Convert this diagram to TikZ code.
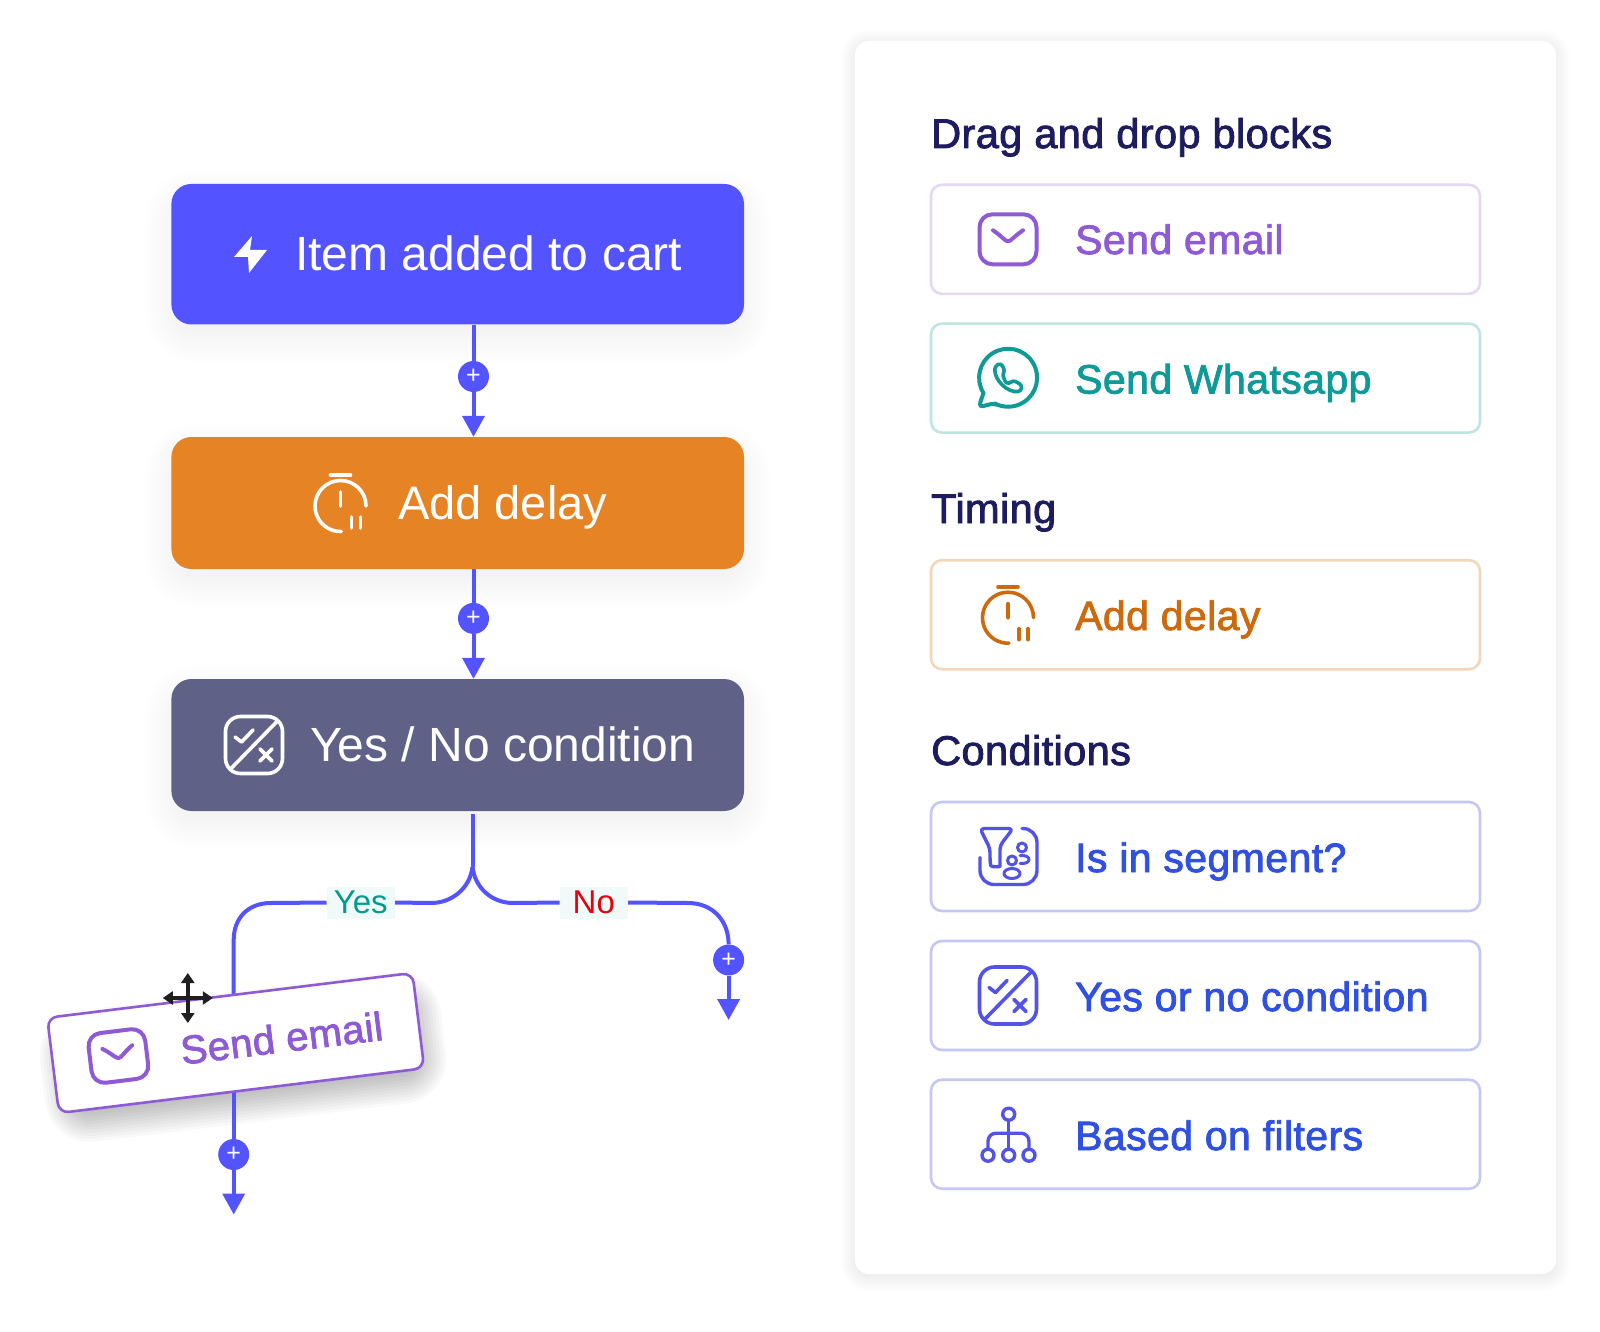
\documentclass[tikz,border=0pt]{standalone}
\usepackage{fontspec}
\setmainfont{Liberation Sans}
\newfontfamily\semi[FakeBold=2,LetterSpace=1]{Liberation Sans}
\usetikzlibrary{arrows.meta,calc}
\definecolor{cflow}{HTML}{5353FF}
\definecolor{corange}{HTML}{E58325}
\definecolor{cgrey}{HTML}{5F6187}
\definecolor{cpurple}{HTML}{8E5AD6}
\definecolor{cpurpleb}{HTML}{E4D8F5}
\definecolor{cteal}{HTML}{0E9A97}
\definecolor{ctealb}{HTML}{BFE5E2}
\definecolor{cdelay}{HTML}{CC6A0D}
\definecolor{cdelayb}{HTML}{F3D7BC}
\definecolor{cblue}{HTML}{2F50E0}
\definecolor{cicon}{HTML}{5353E8}
\definecolor{cblueb}{HTML}{C5C8F5}
\definecolor{chead}{HTML}{1C1C5E}
\definecolor{cyes}{HTML}{009B8E}
\definecolor{cno}{HTML}{E8000D}
\definecolor{clabelbg}{HTML}{F0FAF8}
\pgfdeclarelayer{sh}
\pgfdeclarelayer{conn}
\pgfsetlayers{sh,conn,main}
\newcommand{\softshadow}[6]{%
  \foreach \s in {26,23,...,-4}{%
    \fill[black,opacity=#6,rounded corners={(#5+\s+4)*1pt}]
      (#1-\s,#2-\s+12) rectangle (#3+\s,#4+\s+12);}}
\tikzset{
  flowbox/.style={rectangle,rounded corners=20pt,minimum width=572.6pt,inner sep=0pt,fill=#1},
  flowtext/.style={anchor=base west,inner sep=0pt,text=white,font=\fontsize{48}{50}\selectfont},
  plusdot/.style={circle,fill=cflow,minimum size=31pt,inner sep=0pt,text=white,font=\fontsize{25}{25}\selectfont},
  flowline/.style={draw=cflow,line width=4pt},
  flowarrow/.style={flowline,-{Triangle[width=22pt,length=21pt]}},
  pick/.style={rectangle,rounded corners=11pt,draw=#1,line width=2.6pt,fill=white,minimum width=549pt,minimum height=109pt,inner sep=0pt},
  picktext/.style={anchor=base west,inner sep=0pt,text=#1,font=\semi\fontsize{41}{44}\selectfont},
  heading/.style={anchor=base west,inner sep=0pt,text=chead,font=\semi\fontsize{41.5}{44}\selectfont},
  branch/.style={rectangle,fill=clabelbg,minimum width=68pt,minimum height=32pt,inner sep=0pt,text=#1,font=\fontsize{33}{34}\selectfont},
  ic/.style={draw=#1,line width=3.4pt,line cap=round,line join=round},
  pics/mailicon/.style n args={1}{code={
    \draw[ic=#1,line width=4pt,rounded corners=13pt] (-28.5,-25) rectangle (28.5,25);
    \draw[ic=#1,line width=4pt] (-15,-9) .. controls (-6,-3) and (-3,2) .. (0,2) .. controls (3,2) and (6,-3) .. (15,-9);}},
  pics/waicon/.style n args={1}{code={
    \draw[ic=#1,line width=4pt] (-24.5,15) arc[start angle=212,end angle=-118,radius=29pt] .. controls (-8,29) and (-12,25) .. (-17,26) -- (-25,28) .. controls (-29,29) and (-28,25) .. (-27,22) -- cycle;
    \draw[ic=#1,line width=3.6pt,rounded corners=3pt] (-13,-12) .. controls (-14,2) and (0,15) .. (13,13) -- (14,7) -- (5,2) -- (1,6) .. controls (-3,4) and (-4,0) .. (-6,-3) -- (-3,-7) -- (-7,-15) -- cycle;}},
  pics/delayicon/.style n args={1}{code={
    \draw[ic=#1,line width=3.6pt] (-10,-28) -- (10,-28);
    \draw[ic=#1,line width=3.6pt] (25.5,3) arc[start angle=0,end angle=272,radius=25.5pt];
    \draw[ic=#1,line width=3.6pt] (0,-11) -- (0,3);
    \draw[ic=#1,line width=3.6pt] (11,14) -- (11,25);
    \draw[ic=#1,line width=3.6pt] (20,14) -- (20,25);}},
  pics/yesnoicon/.style n args={1}{code={
    \draw[ic=#1,rounded corners=15pt,line width=3.6pt] (-28.5,-28.5) rectangle (28.5,28.5);
    \draw[ic=#1,line width=3.6pt] (-22.5,23) -- (22.5,-23);
    \draw[ic=#1,line width=3.6pt] (-19,-8) -- (-12.5,-3) -- (-1,-15);
    \draw[ic=#1,line width=3.6pt] (6,4) -- (18,16) (18,4) -- (6,16);}},
  pics/segicon/.style n args={1}{code={
    \draw[ic=#1,rounded corners=4pt] (-28,-28) -- (5,-28) -- (-8,-11) -- (-8,6) .. controls (-8,10) and (-17,11) .. (-18,5) -- (-18,-8) -- cycle;
    \draw[ic=#1,rounded corners=14pt] (-28,1) -- (-28,28) -- (29,28) -- (29,-28) -- (14,-28);
    \draw[ic=#1,line width=3pt] (14,-9) circle[radius=4.5pt] (4,4) circle[radius=4.5pt] (4,17) ellipse[x radius=8pt,y radius=5pt];
    \draw[ic=#1,line width=3pt] (12,-1) .. controls (24,-2) and (24,8) .. (12,7);}},
  pics/treeicon/.style n args={1}{code={
    \draw[ic=#1,line width=3.4pt] (0.7,-20) circle[radius=6pt] (0.7,21) circle[radius=6pt] (-20,21) circle[radius=6pt] (21,21) circle[radius=6pt];
    \draw[ic=#1,line width=3.4pt] (0.7,-14) -- (0.7,15);
    \draw[ic=#1,line width=3.4pt,rounded corners=8pt] (-20,15) -- (-20,-1) -- (21,-1) -- (21,15);}},
  pics/bolticon/.style={code={
    \fill[white] (2,-18) -- (-16,3) -- (-2,3) -- (-1,19) -- (17,-4) -- (0,-4) -- cycle;}},
  pics/moveicon/.style={code={
    \draw[black!88,line width=3.6pt,{Triangle[width=13pt,length=10pt]}-{Triangle[width=13pt,length=10pt]}] (0,-25) -- (0,25);
    \draw[black!88,line width=3.6pt,{Triangle[width=13pt,length=10pt]}-{Triangle[width=13pt,length=10pt]}] (-25,0) -- (25,0);}}
}
\begin{document}
\begin{tikzpicture}[x=1pt,y=-1pt]
\useasboundingbox (0,0) rectangle (1600,1332);
% shadows
\begin{pgfonlayer}{sh}
  \fill[white] (0,0) rectangle (1600,1332);
  \softshadow{171.4}{184}{744}{324.5}{20}{0.0032}
  \softshadow{171.4}{437}{744}{569}{20}{0.0032}
  \softshadow{171.4}{679}{744}{811}{20}{0.0032}
  \foreach \s in {14,12,...,-2}{%
    \fill[black,opacity=0.008,rounded corners={(14+\s)*1pt}] (855-\s,41-\s+3) rectangle (1556+\s,1274+\s+3);}
  \begin{scope}[shift={(243,1057)},rotate=7]
    \foreach \s in {18,15,...,-15}{%
      \fill[black,opacity=0.024,rounded corners={(12+\s+15)*1pt}] (-184-\s,-48-\s) rectangle (184+\s,48+\s);}
  \end{scope}
\end{pgfonlayer}
% flow boxes
\node[flowbox=cflow,minimum height=140.5pt] (trigger) at (457.7,254.2) {};
\node[flowbox=corange,minimum height=132pt] (delay) at (457.7,503) {};
\node[flowbox=cgrey,minimum height=132pt] (cond) at (457.7,745) {};
\pic at (250,254) {bolticon};
\node[flowtext] (triggertext) at (295,270) {Item added to cart};
\pic at (340.5,503) {delayicon={white}};
\node[flowtext,font=\fontsize{47}{50}\selectfont] (delaytext) at (398,519) {Add delay};
\pic at (254,745) {yesnoicon={white}};
\node[flowtext] (condtext) at (310,761) {Yes / No condition};
% plus nodes
\node[plusdot] (p1) at (473.5,376.5) {\raisebox{-1.5pt}{+}};
\node[plusdot] (p2) at (473.5,618.4) {\raisebox{-1.5pt}{+}};
\node[plusdot] (p3) at (728.6,960) {\raisebox{-1.5pt}{+}};
\node[plusdot] (p4) at (233.7,1154.5) {\raisebox{-1.5pt}{+}};
\coordinate (fork) at (472.5,867);
\coordinate (forktop) at (472.5,814);
\coordinate (end3) at (728.6,1020);
\coordinate (end4) at (233.7,1214.5);
% branch labels
\node[branch=cyes] (yes) at (360.7,902.5) {Yes};
\node[branch=cno] (no) at (593.8,902.5) {No};
% dragged card
\node[rectangle,rounded corners=10pt,draw=cpurple,line width=2.6pt,fill=white,minimum width=368pt,minimum height=96pt,rotate=7,inner sep=0pt] (card) at (235.7,1043) {};
\pic[rotate=7] at (118.4,1056) {mailicon={cpurple}};
\node[rotate=7,inner sep=0pt,text=cpurple,font=\semi\fontsize{40}{42}\selectfont] (cardtext) at (281.6,1038) {Send email};
\pic at (187.8,998) {moveicon};
% connectors
\begin{pgfonlayer}{conn}
  \draw[flowline] (p1|-trigger.south) -- (p1);
  \draw[flowarrow] (p1) -- (p1|-delay.north);
  \draw[flowline] (p2|-delay.south) -- (p2);
  \draw[flowarrow] (p2) -- (p2|-cond.north);
  \draw[flowline] (forktop) -- (fork);
  \draw[flowline] (fork) .. controls (470,888) and (452,903) .. (431,903) -- (yes.east);
  \draw[flowline] (fork) .. controls (475,888) and (492,903) .. (513,903) -- (no.west);
  \draw[flowline] (yes.west) -- (271,903) .. controls (248,903) and (233.7,918) .. (233.7,940) -- (card.center -| p4);
  \draw[flowline] (no.east) -- (688,903) .. controls (712,903) and (728.6,920) .. (p3);
  \draw[flowarrow] (p3) -- (end3);
  \draw[flowline] (card.center -| p4) -- (p4);
  \draw[flowarrow] (p4) -- (end4);
\end{pgfonlayer}
% panel
\node[rectangle,rounded corners=14pt,fill=white,minimum width=701pt,minimum height=1233pt,inner sep=0pt] (panel) at (1205.5,657.5) {};
\node[heading] (h1) at (931,148) {Drag and drop blocks};
\node[heading] (h2) at (931,523) {Timing};
\node[heading] (h3) at (931,765) {Conditions};
\node[pick=cpurpleb] (b1) at (1205.5,239.3) {};
\node[pick=ctealb] (b2) at (1205.5,378.1) {};
\node[pick=cdelayb] (b3) at (1205.5,614.7) {};
\node[pick=cblueb] (b4) at (1205.5,856.5) {};
\node[pick=cblueb] (b5) at (1205.5,995.5) {};
\node[pick=cblueb] (b6) at (1205.5,1134.2) {};
\pic at (1008,239.3) {mailicon={cpurple}};
\pic at (1008,378.1) {waicon={cteal}};
\pic at (1008,614.7) {delayicon={cdelay}};
\pic at (1008,856.5) {segicon={cicon}};
\pic at (1008,995.5) {yesnoicon={cicon}};
\pic at (1008,1134.2) {treeicon={cicon}};
\node[picktext=cpurple] (t1) at (1075,254) {Send email};
\node[picktext=cteal] (t2) at (1075,393.5) {Send Whatsapp};
\node[picktext=cdelay] (t3) at (1075,630) {Add delay};
\node[picktext=cblue] (t4) at (1075,872) {Is in segment?};
\node[picktext=cblue] (t5) at (1075,1011) {Yes or no condition};
\node[picktext=cblue] (t6) at (1075,1150) {Based on filters};
\end{tikzpicture}
\end{document}
